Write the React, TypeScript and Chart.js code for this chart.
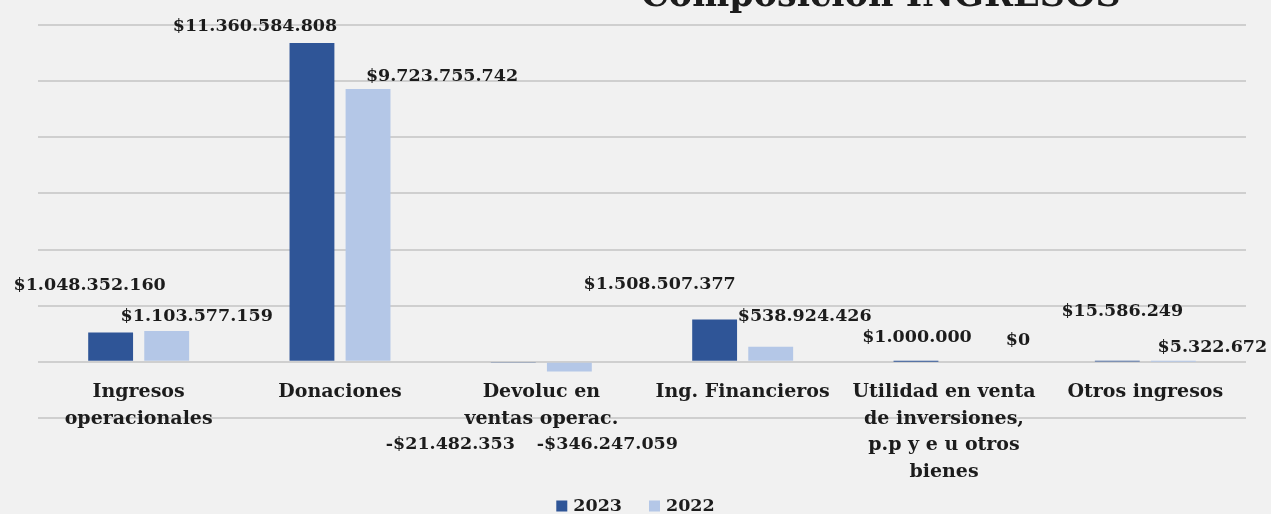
import React, { useEffect, useRef } from 'react';
import { Chart, registerables } from 'chart.js';

Chart.register(...registerables);

const categories: string[][] = [
  ['Ingresos', 'operacionales'],
  ['Donaciones'],
  ['Devoluc en', 'ventas operac.'],
  ['Ing. Financieros'],
  ['Utilidad en venta', 'de inversiones,', 'p.p y e u otros', 'bienes'],
  ['Otros ingresos'],
];
const seriesNames = ['2023', '2022'];
const values2023 = [1048352160, 11360584808, -21482353, 1508507377, 1000000, 15586249];
const values2022 = [1103577159, 9723755742, -346247059, 538924426, 0, 5322672];
const yMin = -2000000000;
const yMax = 12000000000;
const yStep = 2000000000;
const titleText = 'Composición INGRESOS';

// hand-placed data-label offsets (px) relative to each bar's end
const labelOffsets2023 = [[-21, -47], [-57, -16], [-63, 82], [-55, -35], [1, -24], [5, -50]];
const labelOffsets2022 = [[30, -14], [74, -12], [38, 73], [34, -30], [46, -21], [39, -14]];

const colors = ['#2f5597', '#b4c7e7'];
const textColor = '#1c1c1c';
const fontFamily = '"DejaVu Serif", serif';

const fmt = (v: number) =>
  (v < 0 ? '-' : '') + '$' + Math.abs(v).toString().replace(/\B(?=(\d{3})+(?!\d))/g, '.');

const overlayPlugin = {
  id: 'overlay',
  afterDatasetsDraw(chart: any) {
    const ctx = chart.ctx;
    ctx.save();
    ctx.fillStyle = textColor;
    // data labels
    ctx.font = `bold 17.5px ${fontFamily}`;
    ctx.textAlign = 'center';
    ctx.textBaseline = 'middle';
    chart.data.datasets.forEach((ds: any, di: number) => {
      const meta = chart.getDatasetMeta(di);
      const offs = di === 0 ? labelOffsets2023 : labelOffsets2022;
      meta.data.forEach((bar: any, i: number) => {
        ctx.fillText(fmt(ds.data[i]), bar.x + offs[i][0], bar.y + offs[i][1]);
      });
    });
    // title (partially cut at top)
    ctx.textAlign = 'left';
    ctx.textBaseline = 'alphabetic';
    ctx.font = `bold 35px ${fontFamily}`;
    ctx.fillText(titleText, 641, 6);
    // legend
    ctx.font = `bold 17.5px ${fontFamily}`;
    const box = 11, gap = 6, spacing = 27;
    const widths = seriesNames.map((s) => ctx.measureText(s).width);
    const total = widths.reduce((a, w) => a + box + gap + w, 0) + spacing * (seriesNames.length - 1);
    let x = chart.width / 2 - total / 2;
    const cy = 506;
    ctx.textBaseline = 'middle';
    seriesNames.forEach((s, i) => {
      ctx.fillStyle = colors[i];
      ctx.fillRect(x, cy - box / 2, box, box);
      x += box + gap;
      ctx.fillStyle = textColor;
      ctx.fillText(s, x, cy);
      x += widths[i] + spacing;
    });
    ctx.restore();
  },
};

export default function App() {
  const ref = useRef<HTMLCanvasElement | null>(null);
  useEffect(() => {
    if (!ref.current) return;
    const chart = new Chart(ref.current, {
      type: 'bar',
      data: {
        labels: categories as any,
        datasets: [
          { label: seriesNames[0], data: values2023, backgroundColor: colors[0], borderWidth: 0 },
          { label: seriesNames[1], data: values2022, backgroundColor: colors[1], borderWidth: 0 },
        ],
      },
      options: {
        animation: false,
        responsive: false,
        maintainAspectRatio: false,
        layout: { padding: { left: 38, right: 25, top: 25, bottom: 96 } },
        datasets: { bar: { categoryPercentage: 0.557, barPercentage: 0.8 } } as any,
        plugins: { legend: { display: false }, tooltip: { enabled: false }, title: { display: false } },
        scales: {
          x: {
            position: { y: 0 } as any,
            grid: { display: false, drawTicks: false },
            border: { display: false },
            ticks: {
              autoSkip: false,
              maxRotation: 0,
              minRotation: 0,
              padding: 17,
              color: textColor,
              font: { family: fontFamily, size: 19, weight: 'bold', lineHeight: 1.4 },
            },
          },
          y: {
            min: yMin,
            max: yMax,
            ticks: { stepSize: yStep, display: false },
            grid: { color: 'rgba(160,160,160,0.42)', lineWidth: 2, drawTicks: false },
            border: { display: false },
          },
        },
      },
      plugins: [overlayPlugin],
    });
    return () => chart.destroy();
  }, []);
  return (
    <div style={{ position: 'absolute', left: 0, top: 0, width: 1271, height: 514, background: '#f1f1f1', overflow: 'hidden' }}>
      <canvas ref={ref} width={1271} height={514} style={{ display: 'block' }} />
    </div>
  );
}
